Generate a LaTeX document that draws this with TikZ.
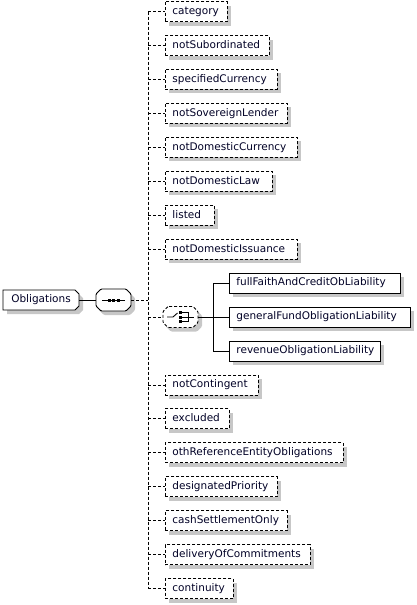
\documentclass[tikz,border=0pt]{standalone}
\usepackage{fontspec}
\setmainfont{DejaVu Sans}
\usetikzlibrary{shadows}
\begin{document}
\begin{tikzpicture}[x=1pt,y=-1pt, line width=0.9pt,
  dsh/.style={dash pattern=on 3pt off 2pt},
  shd/.style={drop shadow={shadow xshift=4pt,shadow yshift=-4pt,fill=black!22,draw=none,opacity=1}},
  lbl/.style={font=\fontsize{10.5}{12}\selectfont, text=black!85!blue},
  elem/.style={lbl, draw, fill=white, shd, anchor=west, minimum height=20pt, inner xsep=7pt, inner ysep=0pt, align=left, text height=7.8pt, text depth=2.2pt},
  opt/.style={elem, dsh},
  req/.style={elem, solid},
  conn/.style={dsh},
]
\useasboundingbox (0,0) rectangle (416,605);

% ---- Obligations (root element)
\fill[black!22] (7,294) -- (79,294) -- (83,298) -- (83,310) -- (79,314) -- (7,314) -- cycle;
\draw[fill=white] (3,290) -- (75,290) -- (79,294) -- (79,306) -- (75,310) -- (3,310) -- cycle;
\node[lbl, inner sep=0pt, minimum width=76pt, minimum height=20pt] (obl) at (41,300) {Obligations};

% ---- sequence compositor
\fill[black!22, rounded corners=1pt] (104,293) -- (130,293) -- (135,298) -- (135,310) -- (130,315) -- (104,315) -- (99,310) -- (99,298) -- cycle;
\draw[fill=white, rounded corners=1pt] (101,289) -- (126,289) -- (131,294) -- (131,306) -- (126,311) -- (101,311) -- (96,306) -- (96,294) -- cycle;
\node[inner sep=0pt, minimum width=35pt, minimum height=22pt] (seq) at (113.5,300) {};
\draw (102,300) -- (125,300);
\fill (107.5,298.5) rectangle (110.5,301.5);
\fill (112,298.5) rectangle (115,301.5);
\fill (116.5,298.5) rectangle (119.5,301.5);

% ---- choice compositor
\fill[black!22, rounded corners=1pt] (171,310.5) -- (197,310.5) -- (202,315.5) -- (202,326.5) -- (197,331.5) -- (171,331.5) -- (166,326.5) -- (166,315.5) -- cycle;
\draw[fill=white, dsh, rounded corners=1pt] (168,306.5) -- (193,306.5) -- (198,311.5) -- (198,322.5) -- (193,327.5) -- (168,327.5) -- (163,322.5) -- (163,311.5) -- cycle;
\node[inner sep=0pt, minimum width=35pt, minimum height=21pt] (choice) at (180.5,317) {};
\draw (167,317) -- (173,317) -- (177.5,313);
\fill (178.5,311) rectangle (181.5,314);
\fill (178.5,315.5) rectangle (181.5,318.5);
\fill (178.5,320) rectangle (181.5,323);
\draw (182,312.5) -- (188.5,312.5) -- (188.5,321.5) -- (182,321.5);
\draw (181.5,317) -- (194,317);

% ---- elements of the sequence
\node[opt, text width=48pt]  (e1)  at (165,11.5)  {category};
\node[opt, text width=90pt]  (e2)  at (165,45.5)  {notSubordinated};
\node[opt, text width=98pt]  (e3)  at (165,79.4)  {specifiedCurrency};
\node[opt, text width=108pt] (e4)  at (165,113.4) {notSovereignLender};
\node[opt, text width=118pt] (e5)  at (165,147.3) {notDomesticCurrency};
\node[opt, text width=93pt]  (e6)  at (165,181.3) {notDomesticLaw};
\node[opt, text width=35pt]  (e7)  at (165,215.2) {listed};
\node[opt, text width=118pt] (e8)  at (165,249.2) {notDomesticIssuance};
\node[req, text width=157pt] (c1)  at (229,283.1) {fullFaithAndCreditObLiability};
\node[req, text width=167pt] (c2)  at (229,317)   {generalFundObligationLiability};
\node[req, text width=137pt] (c3)  at (229,351)   {revenueObligationLiability};
\node[opt, text width=79pt]  (e9)  at (165,385)   {notContingent};
\node[opt, text width=50pt]  (e10) at (165,418.9) {excluded};
\node[opt, text width=164pt] (e11) at (165,452.9) {othReferenceEntityObligations};
\node[opt, text width=98pt]  (e12) at (165,486.8) {designatedPriority};
\node[opt, text width=108pt] (e13) at (165,520.8) {cashSettlementOnly};
\node[opt, text width=131pt] (e14) at (165,554.7) {deliveryOfCommitments};
\node[opt, text width=54pt]  (e15) at (165,588.7) {continuity};

% ---- connectors
\draw (obl.east) -- (seq.west);
\coordinate (tTop) at (148,11.5);
\coordinate (tBot) at (148,588.7);
\coordinate (sj) at (148,300);
\draw[conn] (seq.east) -- (sj);
\draw[conn] (tTop) -- (tBot);
\foreach \n in {e1,e2,e3,e4,e5,e6,e7,e8,e9,e10,e11,e12,e13,e14,e15}
  \draw[conn] (tTop |- \n.west) -- (\n.west);
\draw[conn] (tTop |- choice.west) -- (choice.west);
\coordinate (cf) at (213,317);
\draw (choice.east) -- (cf);
\draw (cf |- c1.west) -- (cf |- c3.west);
\foreach \n in {c1,c2,c3}
  \draw (cf |- \n.west) -- (\n.west);
\end{tikzpicture}
\end{document}
